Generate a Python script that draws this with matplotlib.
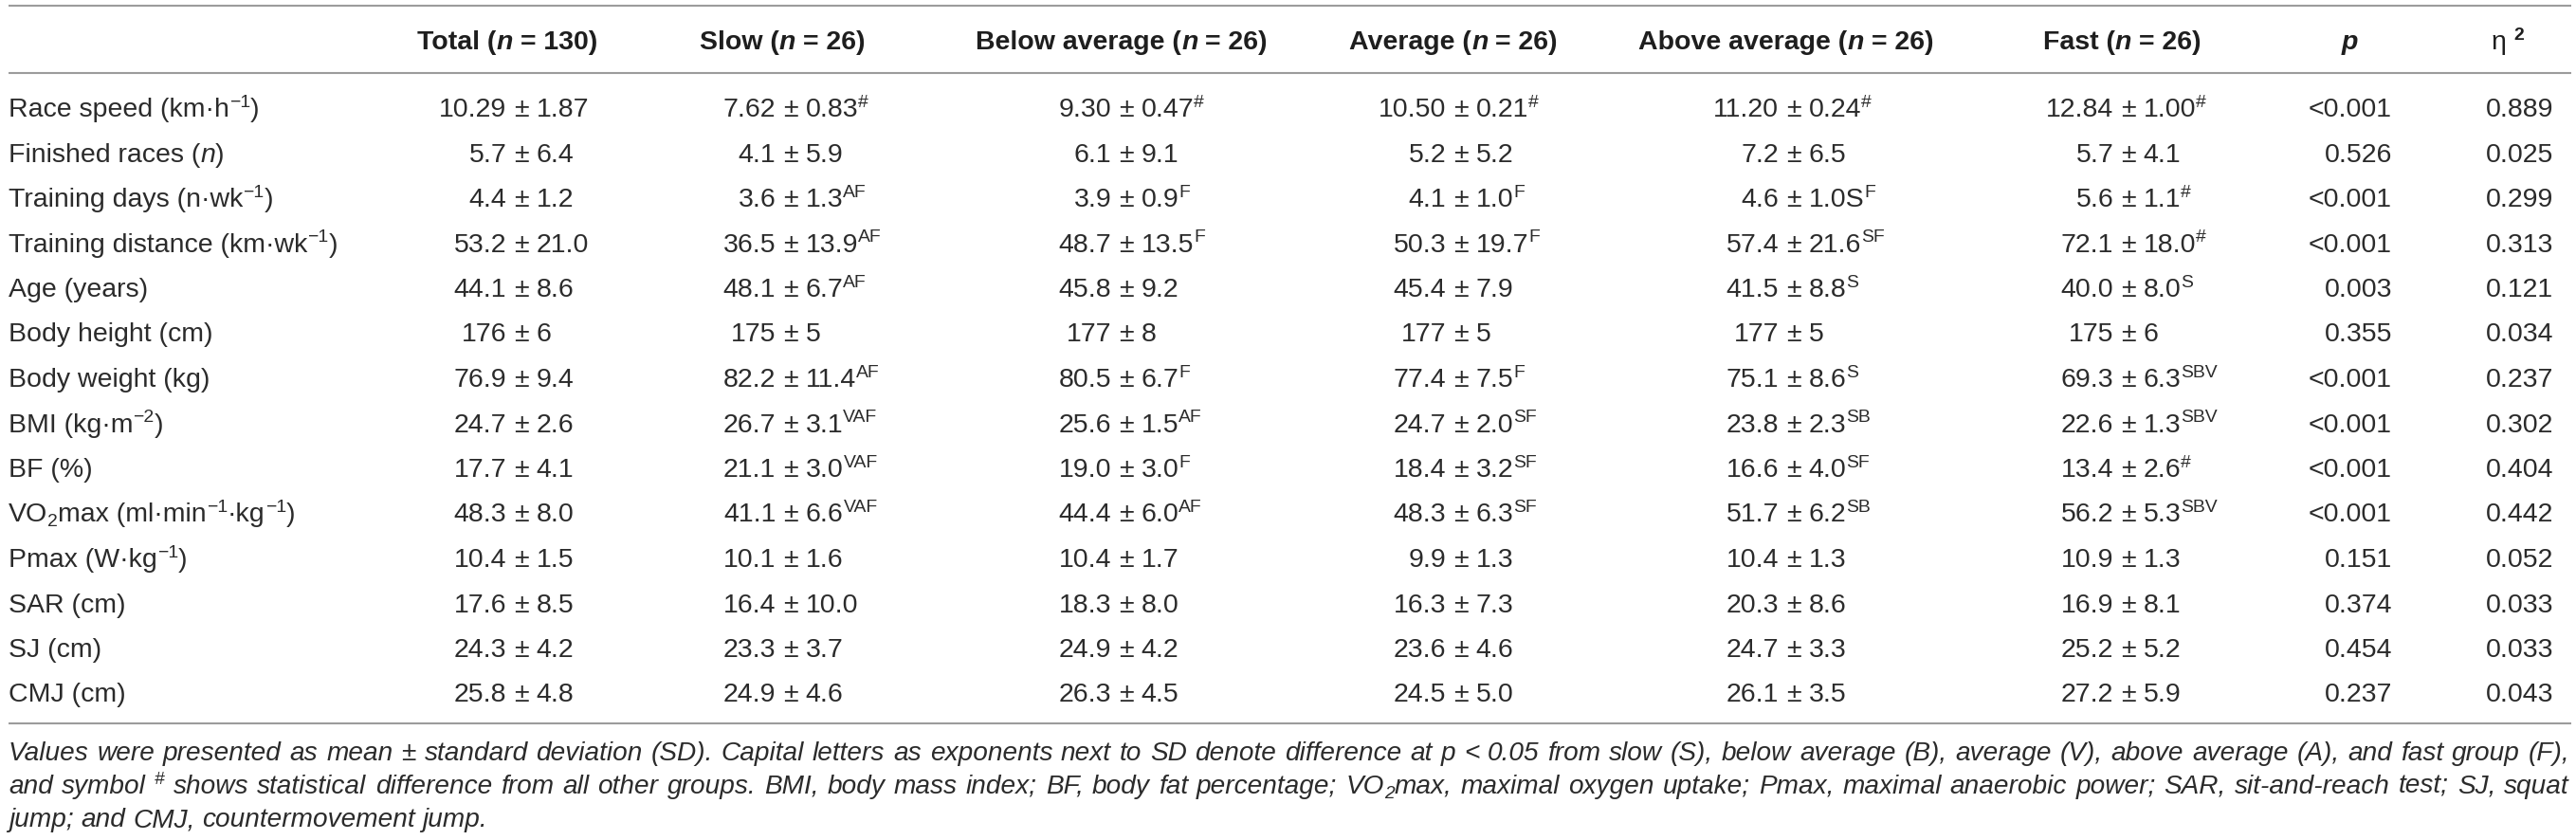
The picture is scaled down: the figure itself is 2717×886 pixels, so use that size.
import re
import matplotlib
matplotlib.use('agg')
import matplotlib.pyplot as plt

# ---- table content ----
headers = ["Total (*{n} = 130)", "Slow (*{n} = 26)", "Below average (*{n} = 26)",
           "Average (*{n} = 26)", "Above average (*{n} = 26)", "Fast (*{n} = 26)"]

row_labels = ["Race speed (km·h^{−1})", "Finished races (*{n})", "Training days (n·wk^{−1})",
              "Training distance (km·wk^{−1})", "Age (years)", "Body height (cm)",
              "Body weight (kg)", "BMI (kg·m^{−2})", "BF (%)",
              "VO_{2}max (ml·min^{−1}·kg^{−1})", "Pmax (W·kg^{−1})", "SAR (cm)",
              "SJ (cm)", "CMJ (cm)"]

total = ["10.29 ± 1.87", "5.7 ± 6.4", "4.4 ± 1.2", "53.2 ± 21.0", "44.1 ± 8.6", "176 ± 6",
         "76.9 ± 9.4", "24.7 ± 2.6", "17.7 ± 4.1", "48.3 ± 8.0", "10.4 ± 1.5", "17.6 ± 8.5",
         "24.3 ± 4.2", "25.8 ± 4.8"]
total_sup = [""] * 14

slow = ["7.62 ± 0.83", "4.1 ± 5.9", "3.6 ± 1.3", "36.5 ± 13.9", "48.1 ± 6.7", "175 ± 5",
        "82.2 ± 11.4", "26.7 ± 3.1", "21.1 ± 3.0", "41.1 ± 6.6", "10.1 ± 1.6", "16.4 ± 10.0",
        "23.3 ± 3.7", "24.9 ± 4.6"]
slow_sup = ["#", "", "AF", "AF", "AF", "", "AF", "VAF", "VAF", "VAF", "", "", "", ""]

below = ["9.30 ± 0.47", "6.1 ± 9.1", "3.9 ± 0.9", "48.7 ± 13.5", "45.8 ± 9.2", "177 ± 8",
         "80.5 ± 6.7", "25.6 ± 1.5", "19.0 ± 3.0", "44.4 ± 6.0", "10.4 ± 1.7", "18.3 ± 8.0",
         "24.9 ± 4.2", "26.3 ± 4.5"]
below_sup = ["#", "", "F", "F", "", "", "F", "AF", "F", "AF", "", "", "", ""]

average = ["10.50 ± 0.21", "5.2 ± 5.2", "4.1 ± 1.0", "50.3 ± 19.7", "45.4 ± 7.9", "177 ± 5",
           "77.4 ± 7.5", "24.7 ± 2.0", "18.4 ± 3.2", "48.3 ± 6.3", "9.9 ± 1.3", "16.3 ± 7.3",
           "23.6 ± 4.6", "24.5 ± 5.0"]
average_sup = ["#", "", "F", "F", "", "", "F", "SF", "SF", "SF", "", "", "", ""]

above = ["11.20 ± 0.24", "7.2 ± 6.5", "4.6 ± 1.0S", "57.4 ± 21.6", "41.5 ± 8.8", "177 ± 5",
         "75.1 ± 8.6", "23.8 ± 2.3", "16.6 ± 4.0", "51.7 ± 6.2", "10.4 ± 1.3", "20.3 ± 8.6",
         "24.7 ± 3.3", "26.1 ± 3.5"]
above_sup = ["#", "", "F", "SF", "S", "", "S", "SB", "SF", "SB", "", "", "", ""]

fast = ["12.84 ± 1.00", "5.7 ± 4.1", "5.6 ± 1.1", "72.1 ± 18.0", "40.0 ± 8.0", "175 ± 6",
        "69.3 ± 6.3", "22.6 ± 1.3", "13.4 ± 2.6", "56.2 ± 5.3", "10.9 ± 1.3", "16.9 ± 8.1",
        "25.2 ± 5.2", "27.2 ± 5.9"]
fast_sup = ["#", "", "#", "#", "S", "", "SBV", "SBV", "#", "SBV", "", "", "", ""]

p_values = ["<0.001", "0.526", "<0.001", "<0.001", "0.003", "0.355", "<0.001", "<0.001",
            "<0.001", "<0.001", "0.151", "0.374", "0.454", "0.237"]
eta_sq = ["0.889", "0.025", "0.299", "0.313", "0.121", "0.034", "0.237", "0.302", "0.404",
          "0.442", "0.052", "0.033", "0.033", "0.043"]

note_lines = [
    "Values were presented as mean ± standard deviation (SD). Capital letters as exponents next to SD "
    "denote difference at p < 0.05 from slow (S), below average (B), average (V), above average (A), "
    "and fast group (F),",
    "and symbol ^{#} shows statistical difference from all other groups. BMI, body mass index; BF, body "
    "fat percentage; VO_{2}max, maximal oxygen uptake; Pmax, maximal anaerobic power; SAR, "
    "sit-and-reach test; SJ, squat",
    "jump; and CMJ, countermovement jump.",
]

# ---- layout ----
W, H = 2717, 886
FONT = ['Liberation Sans', 'DejaVu Sans']
FS = 20.5
TXT = '#2b2b2b'
HEAD = '#1e1e1e'
LINE = '#9c9c9c'

fig = plt.figure(figsize=(W / 100, H / 100), dpi=100)
ax = fig.add_axes([0, 0, 1, 1])
ax.set_xlim(0, W)
ax.set_ylim(H, 0)
ax.axis('off')
renderer = fig.canvas.get_renderer()


def text_w(s, size, weight='normal', style='normal'):
    t = ax.text(0, 0, s, fontsize=size, fontweight=weight, fontstyle=style, family=FONT)
    w = t.get_window_extent(renderer).width
    t.remove()
    return w


def space_w(size, weight='normal', style='normal'):
    return text_w('a a', size, weight, style) - text_w('aa', size, weight, style)


def parse(s, base=''):
    segs = []
    for part in re.split(r'(\^\{[^}]*\}|_\{[^}]*\}|\*\{[^}]*\})', s):
        if not part:
            continue
        if part.startswith('^{'):
            segs.append((part[2:-1], base + '^'))
        elif part.startswith('_{'):
            segs.append((part[2:-1], base + '_'))
        elif part.startswith('*{'):
            segs.append((part[2:-1], base + 'i'))
        else:
            segs.append((part, base))
    return segs


def measure(segs, size):
    items = []
    for s, fmt in segs:
        small = '^' in fmt or '_' in fmt
        fs = size * (0.68 if small else 1.0)
        weight = 'bold' if 'b' in fmt else 'normal'
        style = 'italic' if 'i' in fmt else 'normal'
        em = size / 0.72
        dy = -0.36 * em if '^' in fmt else (0.17 * em if '_' in fmt else 0)
        core = s.strip(' ')
        sw = space_w(fs, weight, style)
        lead = (len(s) - len(s.lstrip(' '))) * sw
        trail = (len(s) - len(s.rstrip(' '))) * sw if core else 0
        w = text_w(core, fs, weight, style) if core else 0
        items.append((core, fs, weight, style, dy, lead, w, trail))
    return items


def seg_width(items):
    return sum(i[5] + i[6] + i[7] for i in items)


def draw(x, y, segs, size=FS, ha='left', color=TXT):
    items = measure(segs, size)
    tw = seg_width(items)
    if ha == 'center':
        x -= tw / 2
    elif ha == 'right':
        x -= tw
    for core, fs, weight, style, dy, lead, w, trail in items:
        x += lead
        if core:
            ax.text(x, y + dy, core, fontsize=fs, fontweight=weight, fontstyle=style,
                    family=FONT, color=color, va='baseline', ha='left')
        x += w + trail
    return x


# rules
for yl in (6, 77, 763):
    ax.plot([9, 2712], [yl, yl], color=LINE, lw=1.5, solid_capstyle='butt')

# header
head_y = 52
head_x = [535, 825, 1183, 1533, 1884, 2238]
for hx, h in zip(head_x, headers):
    draw(hx, head_y, parse(h, 'b'), ha='center', color=HEAD)
draw(2478, head_y, [('p', 'bi')], ha='center', color=HEAD)
draw(2645, head_y, [('η', ''), (' ', ''), ('2', 'b^')], ha='center', color=HEAD)

# body
row_y0, row_step = 123, 47.5
groups = [(total, total_sup), (slow, slow_sup), (below, below_sup),
          (average, average_sup), (above, above_sup), (fast, fast_sup)]
pm_x = [550, 834, 1188, 1541, 1892, 2245]
sp = space_w(FS)
pm_w = text_w('±', FS)

for r, label in enumerate(row_labels):
    y = row_y0 + r * row_step
    draw(9, y, parse(label))
    for (vals, sups), px in zip(groups, pm_x):
        mean, sd = [v.strip() for v in vals[r].split('±')]
        draw(px - pm_w / 2 - sp, y, [(mean, '')], ha='right')
        draw(px, y, [('±', '')], ha='center')
        segs = [(sd, '')]
        if sups[r]:
            segs.append((sups[r], '^'))
        draw(px + pm_w / 2 + sp, y, segs)
    draw(2523, y, [(p_values[r], '')], ha='right')
    draw(2693, y, [(eta_sq[r], '')], ha='right')

# footnote, justified to the table width
left, right = 9, 2710
note_size = 20.0
words1 = [parse(w, 'i') for w in note_lines[0].split(' ')]
nat = seg_width(measure([(note_lines[0], 'i')], note_size))
note_size *= (right - left) * 0.985 / nat
note_y = [802, 837, 872]
for k, line in enumerate(note_lines):
    words = [measure(parse(w, 'i'), note_size) for w in line.split(' ')]
    widths = [seg_width(m) for m in words]
    if k < 2:
        gap = (right - left - sum(widths)) / (len(words) - 1)
    else:
        gap = space_w(note_size, style='italic')
    x = left
    for w, wd in zip(line.split(' '), widths):
        draw(x, note_y[k], parse(w, 'i'), size=note_size)
        x += wd + gap

fig.savefig('out.png', dpi=100, facecolor='white')
